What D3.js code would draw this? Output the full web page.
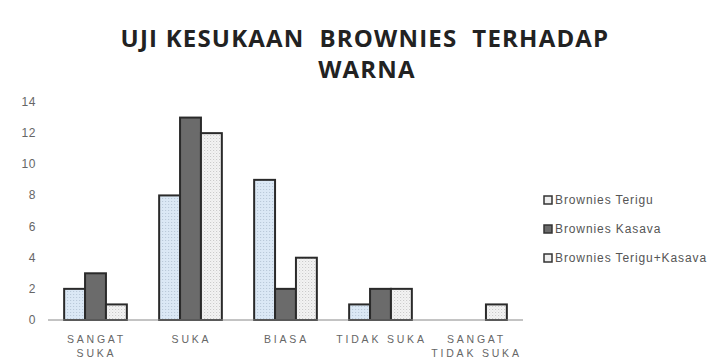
<!DOCTYPE html>
<html>
<head>
<meta charset="utf-8">
<script src="https://cdn.jsdelivr.net/npm/d3@7"></script>
<style>
  body { margin: 0; background: #fff; }
  svg { display: block; }
</style>
</head>
<body>
<svg id="chart" width="713" height="362"></svg>
<script>
// chart values
const categories = [["SANGAT", "SUKA"], ["SUKA"], ["BIASA"], ["TIDAK SUKA"], ["SANGAT", "TIDAK SUKA"]];
const seriesNames = ["Brownies Terigu", "Brownies Kasava", "Brownies Terigu+Kasava"];
const terigu = [2, 8, 9, 1, 0];
const kasava = [3, 13, 2, 2, 0];
const teriguKasava = [1, 12, 4, 2, 1];
const yTicks = [0, 2, 4, 6, 8, 10, 12, 14];

const series = [terigu, kasava, teriguKasava];

const svg = d3.select("#chart");
const margin = { left: 48, right: 190, top: 102, bottom: 42 };
const width = 713, height = 362;

// patterns
const defs = svg.append("defs");
const p1 = defs.append("pattern").attr("id", "dotBlue").attr("width", 3).attr("height", 3)
    .attr("patternUnits", "userSpaceOnUse");
p1.append("rect").attr("width", 3).attr("height", 3).attr("fill", "#dbe8f5");
p1.append("rect").attr("width", 1).attr("height", 1).attr("fill", "#b4c4d4");
const p3 = defs.append("pattern").attr("id", "dotGray").attr("width", 3).attr("height", 3)
    .attr("patternUnits", "userSpaceOnUse");
p3.append("rect").attr("width", 3).attr("height", 3).attr("fill", "#f4f4f4");
p3.append("rect").attr("width", 1).attr("height", 1).attr("fill", "#c4c4c4");
p3.append("rect").attr("x", 1.5).attr("y", 1.5).attr("width", 1).attr("height", 1).attr("fill", "#d8d8d8");

const fills = ["url(#dotBlue)", "#6b6b6b", "url(#dotGray)"];

const x = d3.scaleBand()
    .domain(d3.range(categories.length))
    .range([margin.left, width - margin.right])
    .paddingInner(0.34).paddingOuter(0.17);
const xs = d3.scaleBand().domain(d3.range(series.length)).range([0, x.bandwidth()]);
const y = d3.scaleLinear().domain([0, 14]).range([320, 102]);

// title
const title = svg.append("text").attr("text-anchor", "middle")
    .style("white-space", "pre")
    .attr("font-family", "Open Sans, DejaVu Sans, sans-serif").attr("font-weight", "bold")
    .attr("font-size", 24).attr("fill", "#222").attr("letter-spacing", 1.2);
title.append("tspan").attr("x", 365).attr("y", 47).text("UJI KESUKAAN  BROWNIES  TERHADAP");
title.append("tspan").attr("x", 367).attr("y", 78).text("WARNA");

// y tick labels
svg.append("g").selectAll("text").data(yTicks).join("text")
    .attr("x", 36).attr("y", d => y(d) + 4).attr("text-anchor", "end")
    .attr("font-family", "Liberation Sans, Arial, sans-serif").attr("font-size", 12)
    .attr("letter-spacing", 0.6).attr("fill", "#666").text(d => d);

// bars
const groups = svg.append("g").selectAll("g").data(categories).join("g")
    .attr("transform", (d, i) => `translate(${x(i)},0)`);
series.forEach((vals, s) => {
    groups.append("rect")
        .attr("x", xs(s))
        .attr("width", xs.bandwidth())
        .attr("y", (d, i) => y(vals[i]))
        .attr("height", (d, i) => y(0) - y(vals[i]))
        .attr("fill", fills[s])
        .attr("stroke", (d, i) => vals[i] > 0 ? "#2a2a2a" : "none")
        .attr("stroke-width", 2);
});

// baseline
svg.append("line").attr("x1", margin.left).attr("x2", width - margin.right)
    .attr("y1", y(0)).attr("y2", y(0)).attr("stroke", "#888").attr("stroke-width", 1);

// x labels
const xl = svg.append("g").selectAll("text").data(categories).join("text")
    .attr("text-anchor", "middle")
    .attr("font-family", "Liberation Sans, Arial, sans-serif").attr("font-size", 10.5)
    .attr("fill", "#666").attr("letter-spacing", 2.8);
xl.each(function (lines, i) {
    const t = d3.select(this);
    lines.forEach((ln, k) => {
        t.append("tspan").attr("x", x(i) + x.bandwidth() / 2 + 1).attr("y", 343 + k * 14).text(ln);
    });
});

// legend
const legend = svg.append("g").attr("transform", "translate(543,0)");
const legendY = [200, 229, 258];
seriesNames.forEach((name, s) => {
    legend.append("rect").attr("x", 1).attr("y", legendY[s] - 4).attr("width", 8).attr("height", 8)
        .attr("fill", s === 1 ? "#6b6b6b" : "#eee").attr("stroke", "#333").attr("stroke-width", 1.5);
    legend.append("text").attr("x", 12).attr("y", legendY[s] + 4)
        .attr("font-family", "Liberation Sans, Arial, sans-serif").attr("font-size", 12)
        .attr("letter-spacing", 0.9).attr("fill", "#555").text(name);
});
</script>
</body>
</html>
